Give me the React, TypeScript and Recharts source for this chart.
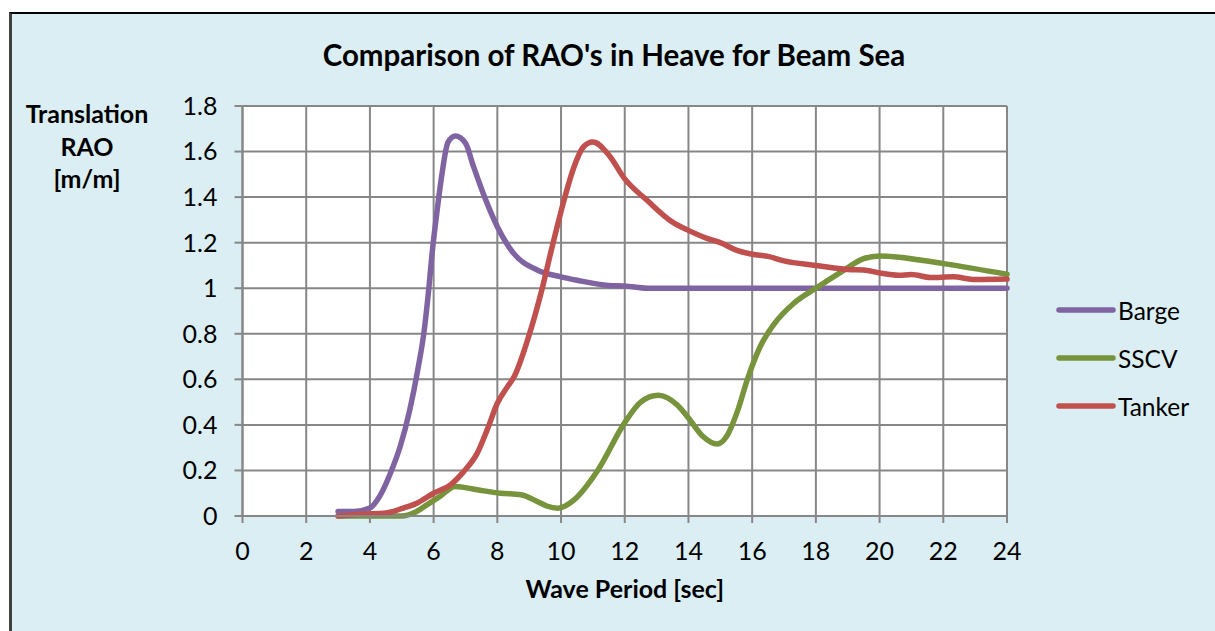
import React from "react";
import { LineChart, Line, XAxis, YAxis, CartesianGrid, Label } from "recharts";

// Wave periods [sec] and heave RAO [m/m] per vessel
const bargePeriod = [3, 3.5, 4, 4.3, 4.65, 4.95, 5.25, 5.5, 5.7, 5.85, 5.95, 6.1, 6.25, 6.45, 6.68, 7, 7.25, 7.6, 8, 8.5, 9.25, 10, 10.5, 11.5, 12, 12.7, 14, 16, 18, 20, 22, 24];
const bargeRao = [0.02, 0.02, 0.035, 0.085, 0.19, 0.305, 0.465, 0.64, 0.81, 1.0, 1.15, 1.33, 1.49, 1.64, 1.668, 1.637, 1.535, 1.4, 1.27, 1.155, 1.08, 1.05, 1.035, 1.012, 1.01, 1.0, 1.0, 1.0, 1.0, 1.0, 1.0, 1.0];

const sscvPeriod = [3, 4, 5, 5.4, 5.8, 6.2, 6.68, 7.37, 8.1, 8.74, 9.25, 9.55, 9.9, 10.4, 11.15, 12, 12.5, 13.05, 13.65, 14, 14.45, 14.9, 15.2, 15.55, 15.85, 16.25, 16.7, 17.3, 18, 18.8, 19.5, 20, 22, 24];
const sscvRao = [0, 0, 0, 0.015, 0.05, 0.086, 0.13, 0.115, 0.1, 0.093, 0.064, 0.044, 0.034, 0.07, 0.2, 0.41, 0.5, 0.53, 0.487, 0.43, 0.35, 0.316, 0.35, 0.465, 0.6, 0.743, 0.845, 0.933, 1.0, 1.072, 1.13, 1.142, 1.108, 1.061];

const tankerPeriod = [3, 3.7, 4.5, 5.05, 5.47, 6, 6.53, 6.95, 7.37, 7.68, 8, 8.32, 8.53, 8.95, 9.37, 9.7, 10.1, 10.4, 10.7, 11, 11.5, 12, 12.7, 13.5, 14, 14.6, 15, 15.5, 16, 16.5, 17, 18, 19, 19.5, 20, 20.6, 21, 21.6, 22.3, 23, 24];
const tankerRao = [0, 0.008, 0.013, 0.035, 0.056, 0.1, 0.137, 0.196, 0.276, 0.378, 0.495, 0.568, 0.612, 0.773, 0.978, 1.17, 1.39, 1.53, 1.62, 1.642, 1.585, 1.48, 1.386, 1.29, 1.254, 1.218, 1.2, 1.167, 1.149, 1.14, 1.12, 1.1, 1.082, 1.08, 1.067, 1.057, 1.06, 1.047, 1.05, 1.038, 1.04];

const periodTicks = [0, 2, 4, 6, 8, 10, 12, 14, 16, 18, 20, 22, 24];
const raoTicks = [0, 0.2, 0.4, 0.6, 0.8, 1, 1.2, 1.4, 1.6, 1.8];

const toRows = (t: number[], v: number[]) => t.map((p, i) => ({ period: p, rao: v[i] }));

const series = [
  { name: "Barge", color: "#8064A2", data: toRows(bargePeriod, bargeRao) },
  { name: "SSCV", color: "#77933C", data: toRows(sscvPeriod, sscvRao) },
  { name: "Tanker", color: "#C0504D", data: toRows(tankerPeriod, tankerRao) },
];

const FONT = "Lato, 'Open Sans', sans-serif";
const GRID = "#878787";

function SeriesLegend() {
  return (
    <div style={{ position: "absolute", left: 1056, top: 286, fontFamily: FONT, fontSize: 24.5, color: "#000" }}>
      {series.map((s) => (
        <div key={s.name} style={{ display: "flex", alignItems: "center", height: 48 }}>
          <svg width={60} height={10} style={{ marginRight: 2, flex: "none" }}>
            <line x1={3} y1={5} x2={57} y2={5} stroke={s.color} strokeWidth={5.5} strokeLinecap="round" />
          </svg>
          <span>{s.name}</span>
        </div>
      ))}
    </div>
  );
}

export default function App() {
  return (
    <div style={{ position: "absolute", left: 0, top: 0, width: 1215, height: 631, background: "#fff", overflow: "hidden" }}>
      <div
        style={{
          position: "absolute",
          left: 9,
          top: 12,
          width: 1215 - 9,
          height: 631 - 12,
          background: "#DAEEF3",
          borderTop: "2px solid #000",
          borderLeft: "3px solid #404040",
          boxSizing: "border-box",
        }}
      />
      <div
        style={{
          position: "absolute",
          left: 0,
          top: 37,
          width: 1228,
          textAlign: "center",
          fontFamily: FONT,
          fontWeight: 700,
          fontSize: 29.5,
          lineHeight: "36px",
          color: "#000",
        }}
      >
        Comparison of RAO's in Heave for Beam Sea
      </div>
      <div
        style={{
          position: "absolute",
          left: 7,
          top: 97,
          width: 160,
          textAlign: "center",
          fontFamily: FONT,
          fontWeight: 700,
          fontSize: 25,
          lineHeight: "32.5px",
          color: "#000",
        }}
      >
        Translation
        <br />
        RAO
        <br />
        [m/m]
      </div>
      <div style={{ position: "absolute", left: 0, top: 0 }}>
        <LineChart width={1215} height={631} margin={{ top: 106, right: 208, bottom: 55, left: 182.5 }}>
          <CartesianGrid stroke={GRID} strokeWidth={2} fill="#fff" />
          <XAxis
            dataKey="period"
            type="number"
            domain={[0, 24]}
            ticks={periodTicks}
            allowDuplicatedCategory={false}
            height={60}
            stroke={GRID}
            strokeWidth={2}
            tickSize={7}
            tickMargin={19}
            tick={{ fill: "#000", fontSize: 25, fontFamily: FONT }}
            interval={0}
          >
            <Label
              value="Wave Period [sec]"
              position="insideBottom"
              offset={-22}
              style={{ fill: "#000", fontSize: 25, fontWeight: 700, fontFamily: FONT }}
            />
          </XAxis>
          <YAxis
            type="number"
            domain={[0, 1.8]}
            ticks={raoTicks}
            width={60}
            stroke={GRID}
            strokeWidth={2}
            tickSize={8}
            tickMargin={17}
            tick={{ fill: "#000", fontSize: 25, fontFamily: FONT }}
            interval={0}
          />
          {series.map((s) => (
            <Line
              key={s.name}
              name={s.name}
              data={s.data}
              dataKey="rao"
              type="monotone"
              stroke={s.color}
              strokeWidth={5.5}
              strokeLinecap="round"
              dot={false}
              activeDot={false}
              isAnimationActive={false}
            />
          ))}
        </LineChart>
      </div>
      <SeriesLegend />
    </div>
  );
}
